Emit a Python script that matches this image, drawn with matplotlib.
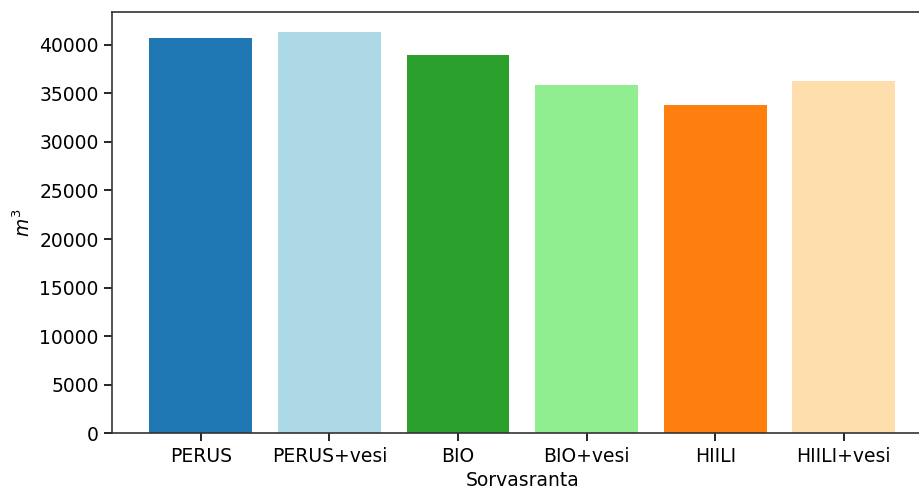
import matplotlib.pyplot as plt

FONTSIZE: float = 13.5

categories = ["PERUS", "PERUS+vesi", "BIO", "BIO+vesi", "HIILI", "HIILI+vesi"]
volumes = [40690, 41310, 38940, 35850, 33820, 36320]
bar_colors = ["#1f77b4", "#add8e6", "#2ca02c", "#90ee90", "#ff7f0e", "#ffdead"]


def main() -> None:
    fig = plt.figure(figsize=(9.2, 4.91), dpi=100)
    # right edge of the axes lies past the figure, as in the cropped original
    ax = fig.add_axes([0.1217, 0.1175, 0.892, 0.858])
    ax.bar(categories, volumes, color=bar_colors, width=0.8)

    ax.set_xlabel("Sorvasranta", fontsize=FONTSIZE)
    ax.set_ylabel("$m^3$", fontsize=FONTSIZE)
    ax.tick_params(labelsize=FONTSIZE, length=6, width=1.2)
    for spine in ax.spines.values():
        spine.set_linewidth(1.2)
        spine.set_color("#333333")
    ax.spines["right"].set_visible(False)

    fig.savefig("out.png", dpi=100)


if __name__ == "__main__":
    main()
